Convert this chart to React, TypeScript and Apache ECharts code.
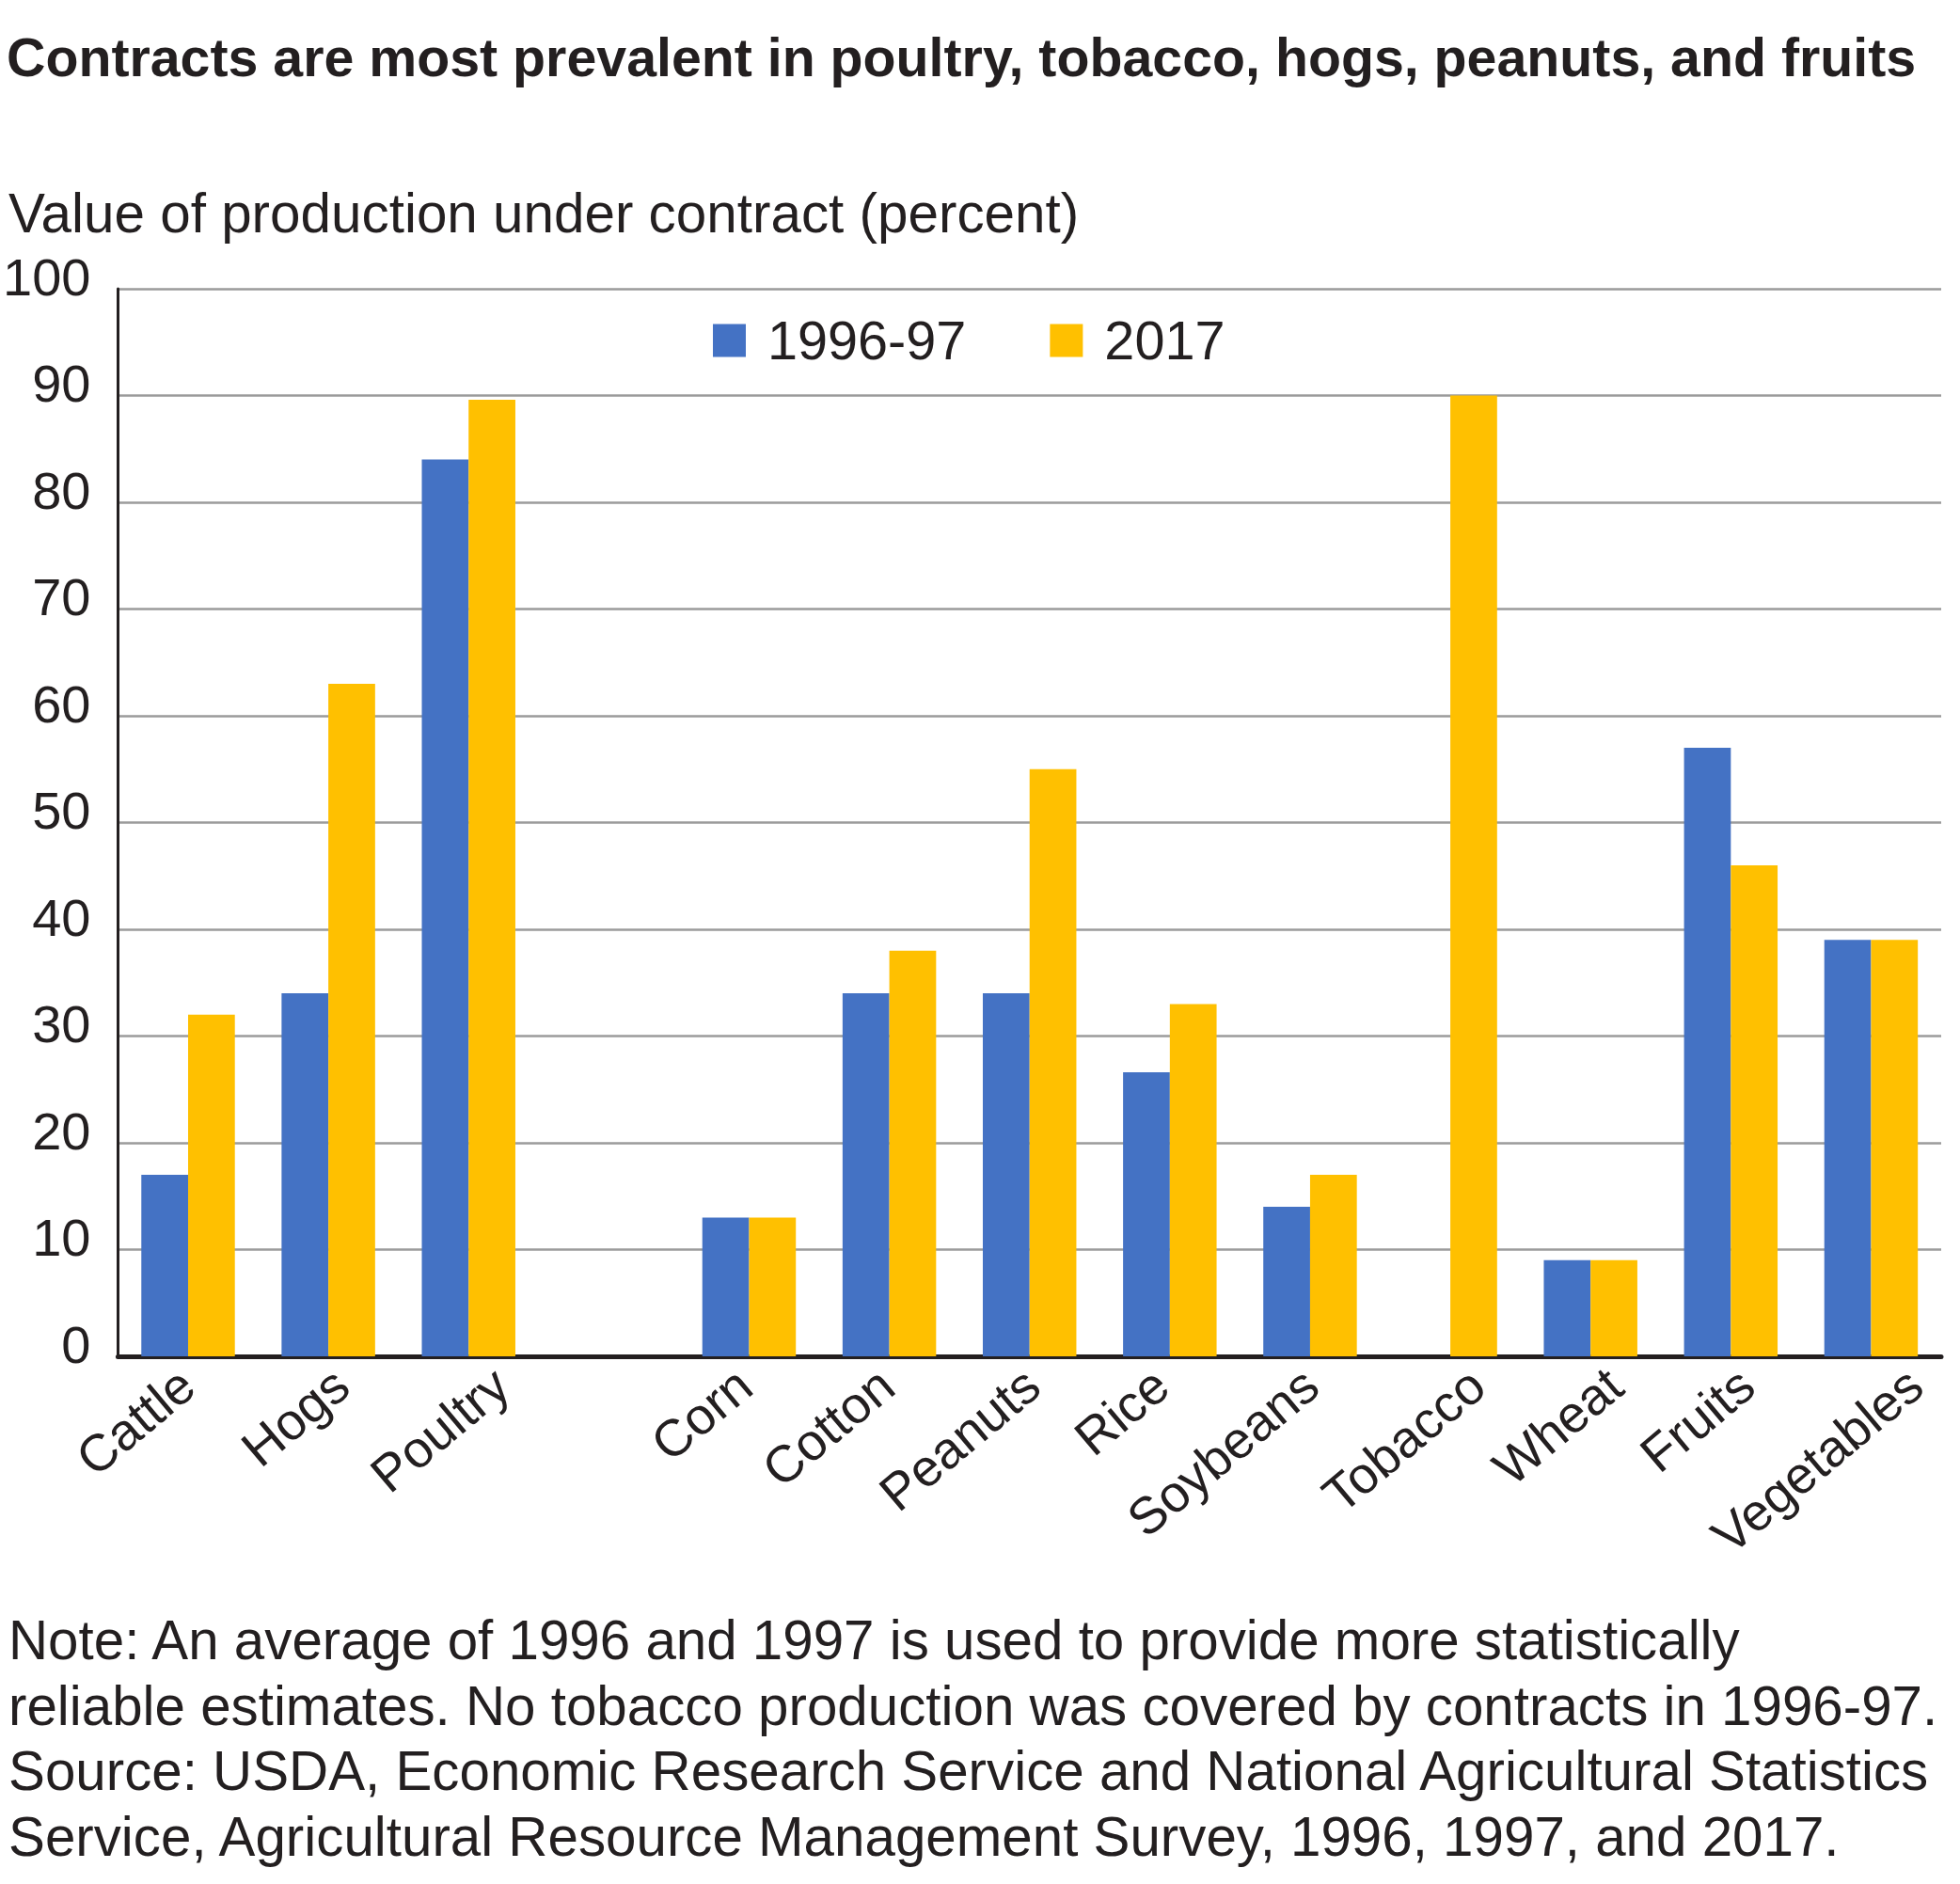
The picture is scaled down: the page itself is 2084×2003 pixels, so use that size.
import React, { useEffect, useRef } from "react";
import * as echarts from "echarts";

const categories = ["Cattle", "Hogs", "Poultry", "", "Corn", "Cotton", "Peanuts", "Rice", "Soybeans", "Tobacco", "Wheat", "Fruits", "Vegetables"];
const values1996_97 = [17, 34, 84, null, 13, 34, 34, 26.6, 14, null, 9, 57, 39];
const values2017 = [32, 63, 89.6, null, 13, 38, 55, 33, 17, 90, 9, 46, 39];
const seriesNames = ["1996-97", "2017"];

// horizontal nudges (px) of the rotated category labels' end point from the category centre
const labelNudge = [-1, 14, 35, 0, -5, -3, 3, -9, 1, 29, 26, 17, 47];

const titleText = "Contracts are most prevalent in poultry, tobacco, hogs, peanuts, and fruits";
const axisTitle = "Value of production under contract (percent)";
const noteText =
  "Note: An average of 1996 and 1997 is used to provide more statistically\n" +
  "reliable estimates. No tobacco production was covered by contracts in 1996-97.\n" +
  "Source: USDA, Economic Research Service and National Agricultural Statistics\n" +
  "Service, Agricultural Resource Management Survey, 1996, 1997, and 2017.";

const FONT = "'Liberation Sans', Arial, Helvetica, sans-serif";
const INK = "#231F20";
const LABEL_ROTATE = 40;

export default function App() {
  const ref = useRef<HTMLDivElement>(null);
  useEffect(() => {
    if (!ref.current) return;
    const chart = echarts.init(ref.current, undefined, { renderer: "svg" });
    chart.setOption({
      animation: false,
      backgroundColor: "#ffffff",
      title: [
        {
          text: titleText,
          left: 7,
          top: 32,
          padding: 0,
          textStyle: { fontFamily: FONT, fontSize: 57.3, fontWeight: "bold", color: INK, lineHeight: 57 },
        },
        {
          text: axisTitle,
          left: 9,
          top: 197,
          padding: 0,
          textStyle: { fontFamily: FONT, fontSize: 58.4, fontWeight: "normal", color: INK, lineHeight: 58 },
        },
        {
          text: noteText,
          left: 9,
          top: 1709,
          padding: 0,
          textStyle: { fontFamily: FONT, fontSize: 58.3, fontWeight: "normal", color: INK, lineHeight: 69.5 },
        },
      ],
      legend: {
        left: 758,
        top: 333,
        padding: 0,
        icon: "rect",
        itemWidth: 35,
        itemHeight: 35,
        itemGap: 89,
        textStyle: { fontFamily: FONT, fontSize: 57.6, color: INK, padding: [0, 0, 0, 18] },
        data: seriesNames,
      },
      grid: { left: 125, top: 307, right: 20, bottom: 2003 - 1442, containLabel: false },
      xAxis: {
        type: "category",
        data: categories,
        axisTick: { show: false },
        axisLine: { show: true, lineStyle: { color: INK, width: 5 } },
        axisLabel: { show: false },
        splitLine: { show: false },
      },
      yAxis: {
        type: "value",
        min: 0,
        max: 100,
        interval: 10,
        axisLine: { show: true, lineStyle: { color: INK, width: 3 } },
        axisTick: { show: false },
        axisLabel: {
          margin: 29,
          fontFamily: FONT,
          fontSize: 56,
          color: INK,
          verticalAlign: "bottom",
          lineHeight: 26,
        },
        splitLine: { show: true, lineStyle: { color: "#9b9b9b", width: 2.5 } },
      },
      series: [
        {
          name: seriesNames[0],
          type: "bar",
          data: values1996_97,
          barGap: "0%",
          barCategoryGap: "33.3%",
          itemStyle: { color: "#4472C4" },
        },
        {
          name: seriesNames[1],
          type: "bar",
          data: values2017,
          barGap: "0%",
          barCategoryGap: "33.3%",
          itemStyle: { color: "#FFC000" },
        },
      ],
    });

    // category labels: placed at the category axis positions given by the chart's own scale
    const y0 = chart.convertToPixel({ yAxisIndex: 0 }, 0) as number;
    const rot = (LABEL_ROTATE * Math.PI) / 180;
    const labels = categories
      .map((c, i) => {
        if (!c) return null;
        const cx = chart.convertToPixel({ xAxisIndex: 0 }, i) as number;
        return {
          type: "text",
          x: cx + labelNudge[i],
          y: y0 + 23,
          rotation: rot,
          silent: true,
          style: {
            text: c,
            fontFamily: FONT,
            fontSize: 55,
            fill: INK,
            align: "right",
            verticalAlign: "middle",
            textAlign: "right",
            textVerticalAlign: "middle",
          },
        };
      })
      .filter(Boolean);
    chart.setOption({ graphic: labels });

    return () => chart.dispose();
  }, []);
  return (
    <div
      ref={ref}
      style={{ position: "absolute", left: 0, top: 0, width: 2084, height: 2003, background: "#fff" }}
    />
  );
}
